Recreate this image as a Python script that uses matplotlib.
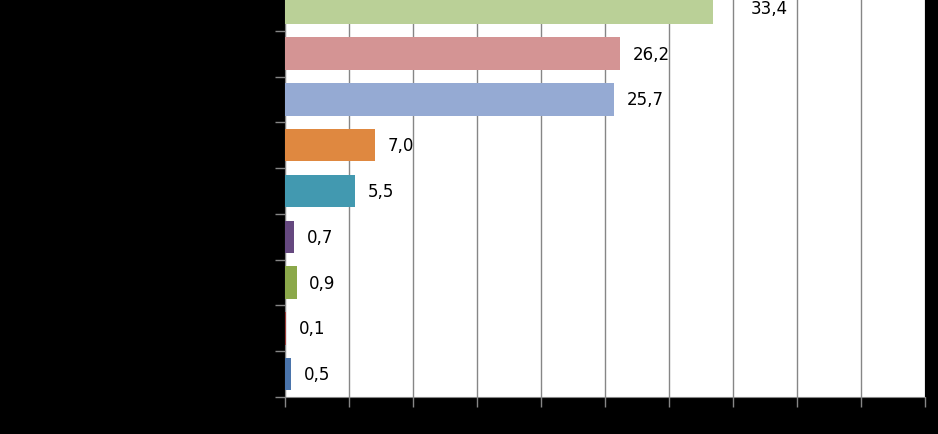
import matplotlib.pyplot as plt

values = [0.5, 0.1, 0.9, 0.7, 5.5, 7.0, 25.7, 26.2, 33.4]
labels = ['0,5', '0,1', '0,9', '0,7', '5,5', '7,0', '25,7', '26,2', '33,4']
colors = ['#4A74AB', '#9B3B39', '#8BA84A', '#65487F', '#4299B0',
          '#DF8840', '#95AAD3', '#D49494', '#BAD097']
# extra gap (in data units) between bar end and its label
label_gap = [1.0, 1.0, 1.0, 1.0, 1.0, 1.0, 1.0, 1.0, 3.0]

fig = plt.figure(figsize=(9.38, 4.35), dpi=100, facecolor='black')
ax = fig.add_axes([285 / 938, 37 / 435, 640 / 938, 412 / 435])
ax.set_facecolor('white')

pos = range(len(values))
ax.barh(pos, values, height=0.71, color=colors, zorder=3)

for i, (v, lab) in enumerate(zip(values, labels)):
    ax.text(v + label_gap[i], i, lab, va='center', ha='left',
            fontsize=12, color='black', zorder=4)

ax.set_xlim(0, 50)
ax.set_ylim(-0.5, len(values) - 0.5)
ax.set_xticks(range(0, 51, 5))
ax.set_xticklabels([])
ax.set_yticks([i - 0.5 for i in range(len(values) + 1)])
ax.set_yticklabels([])
ax.grid(axis='x', color='#868686', linewidth=1, zorder=1)
ax.tick_params(axis='both', color='#868686', length=7, width=1)

for side in ['top', 'right']:
    ax.spines[side].set_visible(False)
for side in ['left', 'bottom']:
    ax.spines[side].set_color('#868686')

plt.savefig('out.png', dpi=100, facecolor='black')
